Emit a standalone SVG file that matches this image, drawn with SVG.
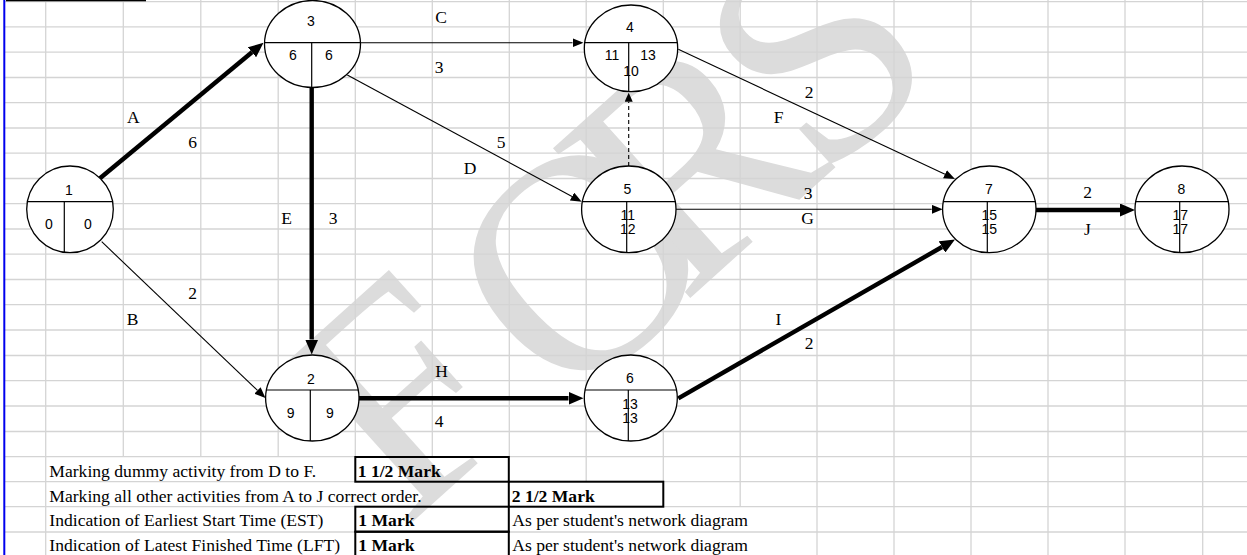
<svg xmlns="http://www.w3.org/2000/svg" width="1247" height="555" viewBox="0 0 1247 555">
  <style>
    .grid line { stroke: #d4d4d4; stroke-width: 1.3; }
    .wm { font-family: "Liberation Serif", "Times New Roman", serif; font-size: 310px; fill: #dcdcdc; text-anchor: middle; }
    .node ellipse { fill: #fff; stroke: #000; stroke-width: 1.3; }
    .node line { stroke: #000; stroke-width: 1.2; }
    .node text { font-family: "Liberation Sans", Arial, sans-serif; font-size: 14px; text-anchor: middle; fill: #000; }
    .thin { stroke: #000; stroke-width: 1.1; fill: none; }
    .thick { stroke: #000; stroke-width: 4.4; fill: none; }
    .dash { stroke-dasharray: 4 3; }
    .lbl { font-family: "Liberation Serif", "Times New Roman", serif; font-size: 17.5px; text-anchor: middle; fill: #000; }
    .tbl { font-family: "Liberation Serif", "Times New Roman", serif; font-size: 17.6px; fill: #000; }
    .b { font-weight: bold; }
    .box { stroke: #000; stroke-width: 2; fill: none; }
  </style>
  <defs>
    <marker id="headThin" markerUnits="userSpaceOnUse" markerWidth="11" markerHeight="9" refX="0" refY="4.5" orient="auto">
      <path d="M0,0 L11,4.5 L0,9 z" fill="#000"/>
    </marker>
    <marker id="headThick" markerUnits="userSpaceOnUse" markerWidth="15" markerHeight="13" refX="0" refY="6.5" orient="auto">
      <path d="M0,0 L15,6.5 L0,13 z" fill="#000"/>
    </marker>
    <marker id="headDash" markerUnits="userSpaceOnUse" markerWidth="9" markerHeight="8" refX="0" refY="4" orient="auto">
      <path d="M0,0 L9,4 L0,8 z" fill="#000"/>
    </marker>
  </defs>

  <rect width="1247" height="555" fill="#fff"/>

  <!-- faint diagonal watermark letters -->
  <g id="watermark">
    <text class="wm" transform="translate(469,471) rotate(-42)">F</text>
    <text class="wm" transform="translate(649,338) rotate(-42)">O</text>
    <text class="wm" transform="translate(759,236) rotate(-42)">R</text>
    <text class="wm" transform="translate(884,126) rotate(-42)">S</text>
  </g>

  <!-- worksheet grid -->
  <g class="grid" id="grid">
    <line x1="5" y1="1.7" x2="1247" y2="1.7"/>
    <line x1="5" y1="26.9" x2="1247" y2="26.9"/>
    <line x1="5" y1="52.2" x2="1247" y2="52.2"/>
    <line x1="5" y1="77.5" x2="1247" y2="77.5"/>
    <line x1="5" y1="102.7" x2="1247" y2="102.7"/>
    <line x1="5" y1="128" x2="1247" y2="128"/>
    <line x1="5" y1="153.2" x2="1247" y2="153.2"/>
    <line x1="5" y1="178.5" x2="1247" y2="178.5"/>
    <line x1="5" y1="203.7" x2="1247" y2="203.7"/>
    <line x1="5" y1="229" x2="1247" y2="229"/>
    <line x1="5" y1="254.2" x2="1247" y2="254.2"/>
    <line x1="5" y1="279.5" x2="1247" y2="279.5"/>
    <line x1="5" y1="304.7" x2="1247" y2="304.7"/>
    <line x1="5" y1="330" x2="1247" y2="330"/>
    <line x1="5" y1="355.5" x2="1247" y2="355.5"/>
    <line x1="5" y1="380.7" x2="1247" y2="380.7"/>
    <line x1="5" y1="406" x2="1247" y2="406"/>
    <line x1="5" y1="431.5" x2="1247" y2="431.5"/>
    <line x1="5" y1="456.7" x2="1247" y2="456.7"/>
    <line x1="5" y1="481.7" x2="1247" y2="481.7"/>
    <line x1="5" y1="506.7" x2="1247" y2="506.7"/>
    <line x1="5" y1="532" x2="1247" y2="532"/>
    <line x1="45.7" y1="0" x2="45.7" y2="555"/>
    <line x1="123.3" y1="0" x2="123.3" y2="456.7"/>
    <line x1="200.8" y1="0" x2="200.8" y2="456.7"/>
    <line x1="278.2" y1="0" x2="278.2" y2="456.7"/>
    <line x1="355.3" y1="0" x2="355.3" y2="456.7"/>
    <line x1="432.3" y1="0" x2="432.3" y2="456.7"/>
    <line x1="509.3" y1="0" x2="509.3" y2="456.7"/>
    <line x1="586.2" y1="0" x2="586.2" y2="481.7"/>
    <line x1="663.3" y1="0" x2="663.3" y2="481.7"/>
    <line x1="740.2" y1="0" x2="740.2" y2="506.7"/>
    <line x1="817" y1="0" x2="817" y2="555"/>
    <line x1="894" y1="0" x2="894" y2="555"/>
    <line x1="971" y1="0" x2="971" y2="555"/>
    <line x1="1048" y1="0" x2="1048" y2="555"/>
    <line x1="1125" y1="0" x2="1125" y2="555"/>
    <line x1="1202.7" y1="0" x2="1202.7" y2="555"/>
  </g>
  <line x1="4.3" y1="0" x2="4.3" y2="555" stroke="#0000ee" stroke-width="2"/>
  <rect x="6" y="0" width="140" height="1.3" fill="#000"/>

  <!-- activity arrows -->
  <g id="connectors">
    <line class="thick" x1="100" y1="178.3" x2="251.95" y2="52.27" marker-end="url(#headThick)"/>
    <line class="thin" x1="101.7" y1="241.7" x2="257.5" y2="390.4" marker-end="url(#headThin)"/>
    <line class="thin" x1="360.7" y1="42.7" x2="572.5" y2="42.7" marker-end="url(#headThin)"/>
    <line class="thin" x1="347.3" y1="75" x2="572" y2="196.5" marker-end="url(#headThin)"/>
    <line class="thick" x1="311.7" y1="87.5" x2="311.7" y2="339.5" marker-end="url(#headThick)"/>
    <line class="thin" x1="678.3" y1="49.3" x2="945" y2="174.3" marker-end="url(#headThin)"/>
    <line class="thin" x1="676" y1="209.3" x2="931.7" y2="209.3" marker-end="url(#headThin)"/>
    <line class="thick" x1="359" y1="398.3" x2="568.5" y2="398.3" marker-end="url(#headThick)"/>
    <line class="thick" x1="678.3" y1="398.3" x2="942" y2="247" marker-end="url(#headThick)"/>
    <line class="thick" x1="1036" y1="210" x2="1120" y2="210" stroke-width="5.4" marker-end="url(#headThick)"/>
    <line class="thin dash" x1="628.7" y1="166" x2="628.7" y2="101.7" marker-end="url(#headDash)"/>
  </g>

  <!-- activity letters and durations -->
  <g id="labels">
    <text class="lbl" x="133.3" y="122.7">A</text>
    <text class="lbl" x="192.5" y="148.3">6</text>
    <text class="lbl" x="441" y="22.7">C</text>
    <text class="lbl" x="439" y="72.7">3</text>
    <text class="lbl" x="501" y="148.3">5</text>
    <text class="lbl" x="470" y="174">D</text>
    <text class="lbl" x="809" y="98.3">2</text>
    <text class="lbl" x="778.5" y="122.7">F</text>
    <text class="lbl" x="286.5" y="224">E</text>
    <text class="lbl" x="333" y="224">3</text>
    <text class="lbl" x="192.5" y="299.3">2</text>
    <text class="lbl" x="132.5" y="325">B</text>
    <text class="lbl" x="808" y="199">3</text>
    <text class="lbl" x="807.5" y="224">G</text>
    <text class="lbl" x="1087.5" y="198.3">2</text>
    <text class="lbl" x="1087.5" y="235">J</text>
    <text class="lbl" x="778.5" y="325">I</text>
    <text class="lbl" x="809" y="349">2</text>
    <text class="lbl" x="441.5" y="377.3">H</text>
    <text class="lbl" x="439" y="426.7">4</text>
  </g>

  <!-- event nodes -->
  <g class="node" id="node-1">
    <ellipse cx="70" cy="209.3" rx="43.3" ry="43.3"/>
    <line x1="27.4" y1="201.7" x2="112.6" y2="201.7"/>
    <line x1="64.3" y1="201.7" x2="64.3" y2="252.2"/>
    <text x="69" y="195">1</text>
    <text x="49" y="229.3">0</text>
    <text x="88" y="229.3">0</text>
  </g>
  <g class="node" id="node-3">
    <ellipse cx="312.5" cy="44" rx="48" ry="43.5"/>
    <line x1="264.5" y1="42.7" x2="360.5" y2="42.7"/>
    <line x1="311.7" y1="42.7" x2="311.7" y2="87.5"/>
    <text x="311" y="26">3</text>
    <text x="293" y="60">6</text>
    <text x="329" y="60">6</text>
  </g>
  <g class="node" id="node-4">
    <ellipse cx="631" cy="48.3" rx="46.7" ry="43.3"/>
    <line x1="584.7" y1="42.7" x2="677.3" y2="42.7"/>
    <line x1="628.7" y1="42.7" x2="628.7" y2="91.5"/>
    <text x="630" y="32.3">4</text>
    <text x="612" y="60">11</text>
    <text x="648" y="60">13</text>
    <text x="631" y="75.7">10</text>
  </g>
  <g class="node" id="node-5">
    <ellipse cx="628.8" cy="209.3" rx="47.2" ry="43.3"/>
    <line x1="582.3" y1="201.7" x2="675.3" y2="201.7"/>
    <line x1="626.7" y1="201.7" x2="626.7" y2="252.5"/>
    <text x="627.3" y="194">5</text>
    <text x="627.7" y="220">11</text>
    <text x="627.7" y="234">12</text>
  </g>
  <g class="node" id="node-7">
    <ellipse cx="989.3" cy="209.3" rx="46.7" ry="43.3"/>
    <line x1="943.3" y1="201.7" x2="1035.3" y2="201.7"/>
    <line x1="987.3" y1="201.7" x2="987.3" y2="252.5"/>
    <text x="989" y="194">7</text>
    <text x="989.3" y="220">15</text>
    <text x="989.3" y="234">15</text>
  </g>
  <g class="node" id="node-8">
    <ellipse cx="1182" cy="209.3" rx="47" ry="43.3"/>
    <line x1="1135.7" y1="201.7" x2="1228.3" y2="201.7"/>
    <line x1="1179.7" y1="201.7" x2="1179.7" y2="252.5"/>
    <text x="1181.3" y="194">8</text>
    <text x="1180.3" y="220">17</text>
    <text x="1180.3" y="234">17</text>
  </g>
  <g class="node" id="node-2">
    <ellipse cx="312.3" cy="398" rx="46.7" ry="43"/>
    <line x1="266.4" y1="390" x2="358.2" y2="390"/>
    <line x1="310.3" y1="390" x2="310.3" y2="441"/>
    <text x="311" y="384.3">2</text>
    <text x="290.7" y="418.3">9</text>
    <text x="330" y="418.3">9</text>
  </g>
  <g class="node" id="node-6">
    <ellipse cx="630.8" cy="398" rx="46.5" ry="43"/>
    <line x1="585.1" y1="390" x2="676.5" y2="390"/>
    <line x1="628.3" y1="390" x2="628.3" y2="441"/>
    <text x="630" y="382.7">6</text>
    <text x="630" y="409">13</text>
    <text x="630" y="423.3">13</text>
  </g>

  <!-- marking scheme -->
  <g id="marking-table">
    <rect class="box" x="355.3" y="457" width="153.5" height="24.7"/>
    <rect class="box" x="508.8" y="481.7" width="154.5" height="25"/>
    <rect class="box" x="355.3" y="506.7" width="153.5" height="25"/>
    <rect class="box" x="355.3" y="531.7" width="153.5" height="25"/>
    <text class="tbl" x="49.3" y="476.7">Marking dummy activity from D to F.</text>
    <text class="tbl b" x="357.7" y="476.7">1 1/2 Mark</text>
    <text class="tbl" x="49.3" y="501.7">Marking all other activities from A to J correct order.</text>
    <text class="tbl b" x="511.7" y="501.7">2 1/2 Mark</text>
    <text class="tbl" x="49.3" y="526.2">Indication of Earliest Start Time (EST)</text>
    <text class="tbl b" x="358.3" y="526.2">1 Mark</text>
    <text class="tbl" x="512.3" y="526.2">As per student's network diagram</text>
    <text class="tbl" x="49.3" y="551.2">Indication of Latest Finished Time (LFT)</text>
    <text class="tbl b" x="358.3" y="551.2">1 Mark</text>
    <text class="tbl" x="512.3" y="551.2">As per student's network diagram</text>
  </g>
</svg>
